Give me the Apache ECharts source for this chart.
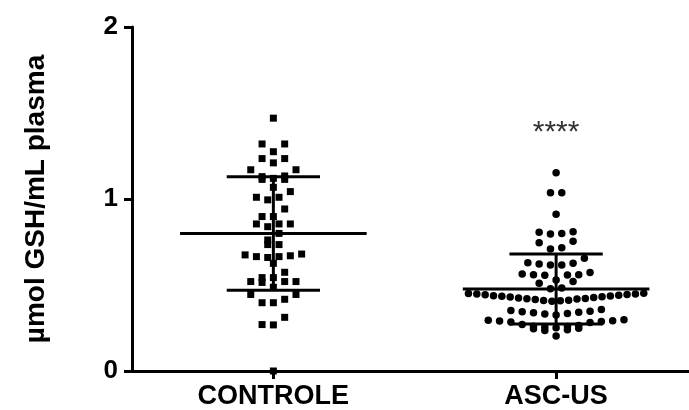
<!DOCTYPE html>
<html>
<head>
<meta charset="utf-8">
<script src="https://cdn.jsdelivr.net/npm/echarts@6/dist/echarts.min.js"></script>
<style>
  html, body { margin: 0; padding: 0; background: #fff; }
  #chart { width: 689px; height: 410px; }
</style>
</head>
<body>
<div id="chart"></div>
<script>
// grupos e valores
var categories = ['CONTROLE', 'ASC-US'];
var yTicks = [0, 1, 2];
var signif = '****';

var controle = [1.47, 1.32, 1.32, 1.275, 1.235, 1.235, 1.21, 1.17, 1.17,
  1.134, 1.13, 1.12, 1.114, 1.114, 1.068, 1.043, 1.01, 1.01, 0.995, 0.942,
  0.898, 0.898, 0.855, 0.855, 0.855, 0.839, 0.80, 0.762, 0.735, 0.735,
  0.68, 0.675, 0.67, 0.665, 0.665, 0.66, 0.626, 0.574, 0.543, 0.543,
  0.52, 0.52, 0.52, 0.515, 0.487, 0.445, 0.445, 0.417, 0.397, 0.397,
  0.312, 0.27, 0.268, 0.0];

var ascus = [1.153, 1.037, 1.037, 0.911, 0.81, 0.806, 0.80, 0.797, 0.754,
  0.746, 0.717, 0.709, 0.655, 0.63, 0.626, 0.622, 0.616, 0.616, 0.572,
  0.564, 0.56, 0.56, 0.558, 0.556, 0.529, 0.52, 0.51, 0.482, 0.478,
  0.452, 0.45, 0.448, 0.447, 0.445, 0.443, 0.44, 0.438, 0.436, 0.434,
  0.432, 0.43, 0.428, 0.425, 0.422, 0.42, 0.418, 0.415, 0.412, 0.41,
  0.408, 0.405,
  0.358, 0.352, 0.348, 0.345, 0.342, 0.339, 0.335, 0.331, 0.326,
  0.298, 0.295, 0.292, 0.29, 0.288, 0.285, 0.282,
  0.27, 0.265, 0.26, 0.258, 0.255, 0.252, 0.248, 0.245, 0.24, 0.235,
  0.203];

var groups = [controle, ascus];

function mean(a) {
  var s = 0;
  for (var i = 0; i < a.length; i++) s += a[i];
  return s / a.length;
}
function sd(a) {
  var m = mean(a), s = 0;
  for (var i = 0; i < a.length; i++) s += (a[i] - m) * (a[i] - m);
  return Math.sqrt(s / (a.length - 1));
}

// espalha os pontos em linhas (tipo "scatter dot plot" do Prism)
function swarm(values, gx) {
  var binH = 0.05, step = 0.04, maxHalf = 0.31;
  var sorted = values.slice().sort(function (a, b) { return b - a; });
  var bins = [], cur = null;
  for (var i = 0; i < sorted.length; i++) {
    if (!cur || sorted[i] <= cur.start - binH) {
      cur = { start: sorted[i], vals: [] };
      bins.push(cur);
    }
    cur.vals.push(sorted[i]);
  }
  var pts = [];
  bins.forEach(function (b) {
    var v = b.vals.slice().sort(function (a, c) { return a - c; });
    var n = v.length;
    var st = step;
    if ((n - 1) * st / 2 > maxHalf) st = 2 * maxHalf / (n - 1);
    for (var k = 0; k < n; k++) {
      var off;
      if (n % 2 === 1) {
        var r = Math.ceil(k / 2);
        off = (k % 2 === 1 ? -r : r) * st;
      } else {
        var r2 = Math.floor(k / 2) + 0.5;
        off = (k % 2 === 0 ? -r2 : r2) * st;
      }
      pts.push([gx + off, v[k]]);
    }
  });
  return pts;
}

var stats = groups.map(function (g, i) { return [i, mean(g), sd(g)]; });

var chart = echarts.init(document.getElementById('chart'));
var font = 'Liberation Sans, Arial, Helvetica, sans-serif';

var option = {
  animation: false,
  backgroundColor: '#fff',
  grid: { left: 132, right: 0, top: 27, bottom: 39, containLabel: false },
  xAxis: {
    type: 'value',
    min: -0.5,
    max: 1.47,
    splitLine: { show: false },
    axisLine: { show: true, onZero: true, lineStyle: { color: '#000', width: 3 } },
    axisTick: { show: true, customValues: [0, 1], length: 8, lineStyle: { color: '#000', width: 3 } },
    axisLabel: {
      customValues: [0, 1],
      formatter: function (v) { return categories[Math.round(v)]; },
      color: '#000', fontSize: 27, fontWeight: 'bold', fontFamily: font, margin: 12
    }
  },
  yAxis: {
    type: 'value',
    min: yTicks[0],
    max: yTicks[yTicks.length - 1],
    interval: 1,
    name: 'µmol GSH/mL plasma',
    nameLocation: 'middle',
    nameGap: 82,
    nameTextStyle: { color: '#000', fontSize: 28, fontWeight: 'bold', fontFamily: font },
    splitLine: { show: false },
    axisLine: { show: true, onZero: false, lineStyle: { color: '#000', width: 3 } },
    axisTick: { show: true, length: 8, lineStyle: { color: '#000', width: 3 } },
    axisLabel: { color: '#000', fontSize: 26, fontWeight: 'bold', fontFamily: font, margin: 14 }
  },
  series: [
    {
      name: categories[0],
      type: 'scatter',
      symbol: 'rect',
      symbolSize: 7,
      itemStyle: { color: '#000', opacity: 1 },
      data: swarm(controle, 0)
    },
    {
      name: categories[1],
      type: 'scatter',
      symbol: 'circle',
      symbolSize: 7.5,
      itemStyle: { color: '#000', opacity: 1 },
      data: swarm(ascus, 1),
      markPoint: {
        symbolSize: 0,
        data: [{ coord: [1, 1.385] }],
        label: {
          show: true, position: 'inside', formatter: signif,
          color: '#333', fontSize: 30, fontFamily: font
        }
      }
    },
    {
      // média e desvio padrão
      type: 'custom',
      data: stats,
      renderItem: function (params, api) {
        var x = api.value(0), m = api.value(1), s = api.value(2);
        var c = api.coord([x, m]);
        var top = api.coord([x, m + s]);
        var bot = api.coord([x, m - s]);
        var hm = api.size([0.33, 0])[0];
        var hs = api.size([0.165, 0])[0];
        var st = { stroke: '#000', lineWidth: 3 };
        return {
          type: 'group',
          children: [
            { type: 'line', shape: { x1: c[0] - hm, y1: c[1], x2: c[0] + hm, y2: c[1] }, style: st },
            { type: 'line', shape: { x1: c[0] - hs, y1: top[1], x2: c[0] + hs, y2: top[1] }, style: st },
            { type: 'line', shape: { x1: c[0] - hs, y1: bot[1], x2: c[0] + hs, y2: bot[1] }, style: st },
            { type: 'line', shape: { x1: c[0], y1: top[1], x2: c[0], y2: bot[1] }, style: st }
          ]
        };
      }
    }
  ]
};

chart.setOption(option);
</script>
</body>
</html>
